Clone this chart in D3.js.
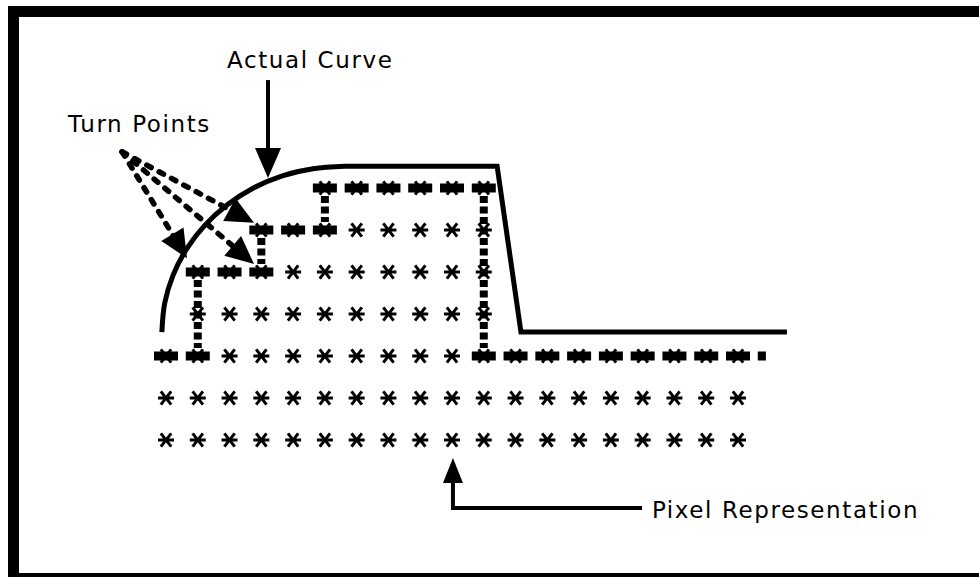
<html>
<head>
<script src="https://d3js.org/d3.v7.min.js"></script>
<style>
body { margin: 0; background: #fff; }
svg { font-family: "DejaVu Sans", sans-serif; }
.label { font-size: 23px; letter-spacing: 1.6px; fill: #000; }
</style>
</head>
<body>
<div id="root"></div>
<script>
/* Rejilla de pixeles: primera y ultima columna con asterisco en cada fila */
var rowRanges = [[5, 10], [3, 10], [1, 10], [1, 10], [0, 18], [0, 18], [0, 18]];

/* Representacion en pixeles (linea punteada), en columnas / filas */
var pixelPath = [[0, 4], [1, 4], [1, 2], [3, 2], [3, 1], [5, 1], [5, 0], [10, 0], [10, 4], [18.5, 4]];

/* Curva real, en las mismas unidades */
var curveArc = [[-0.13, 3.43], [-0.04, 2.74], [0.22, 2.08], [0.65, 1.45], [1.22, 0.89],
  [1.93, 0.40], [2.75, 0.0], [3.66, -0.29], [4.63, -0.46], [5.63, -0.52]];
var curveTail = [[5.63, -0.52], [10.42, -0.52], [11.17, 3.43], [19.54, 3.43]];

/* Anotaciones */
var turnFrom = [-1.38, -0.86];
var turnTips = [[0.66, 1.67], [2.77, 1.81], [2.77, 0.83]];
var curveArrow = [[3.21, -2.57], [3.21, -0.24]];
var pixelArrow = [[14.98, 7.62], [9.03, 7.62], [9.03, 6.43]];
var labelText = ["Actual Curve", "Turn Points", "Pixel Representation"];
var labelAt = [[1.92, -2.86], [-3.08, -1.33], [15.29, 7.86]];

var width = 979;
var height = 577;

/* escalas: columna -> x, fila -> y */
var x = d3.scaleLinear().domain([0, 18]).range([166, 738]);
var y = d3.scaleLinear().domain([0, 6]).range([188, 440]);
var px = p => [x(p[0]), y(p[1])];

var svg = d3.select("#root").append("svg")
  .attr("width", width)
  .attr("height", height);

/* marco */
svg.append("rect").attr("x", 8).attr("y", 6).attr("width", width - 8).attr("height", 11).attr("fill", "#000");
svg.append("rect").attr("x", 8).attr("y", 6).attr("width", 11).attr("height", height - 6).attr("fill", "#000");
svg.append("rect").attr("x", 8).attr("y", 573).attr("width", width - 8).attr("height", 4).attr("fill", "#000");

/* asterisco: barra horizontal + aspa */
var star = {
  draw: function(ctx, size) {
    var r = Math.sqrt(size) / 2;
    var a = 52 * Math.PI / 180, dx = r * 1.05 * Math.cos(a), dy = r * 1.05 * Math.sin(a);
    ctx.moveTo(-r, 0); ctx.lineTo(r, 0);
    ctx.moveTo(-dx, -dy); ctx.lineTo(dx, dy);
    ctx.moveTo(-dx, dy); ctx.lineTo(dx, -dy);
  }
};

var cells = [];
rowRanges.forEach(function(r, i) {
  for (var c = r[0]; c <= r[1]; c++) cells.push([c, i]);
});

svg.append("g").selectAll("path")
  .data(cells).enter()
  .append("path")
  .attr("d", d3.symbol(star, 256))
  .attr("transform", d => `translate(${x(d[0])},${y(d[1])})`)
  .attr("stroke", "#000")
  .attr("stroke-width", 3)
  .attr("fill", "none");

/* linea punteada de pixeles, tramo por tramo */
var segs = d3.pairs(pixelPath);
svg.append("g").selectAll("line")
  .data(segs).enter()
  .append("line")
  .each(function(s) {
    var a = px(s[0]), b = px(s[1]);
    var el = d3.select(this);
    if (a[1] === b[1]) {
      var x0 = Math.min(a[0], b[0]) - 12, x1 = Math.max(a[0], b[0]) + 12;
      el.attr("x1", x0).attr("x2", x1).attr("y1", a[1]).attr("y2", a[1])
        .attr("stroke-width", 9)
        .attr("stroke-dasharray", "24," + (x(1) - x(0) - 24));
    } else {
      var y0 = Math.min(a[1], b[1]), y1 = Math.max(a[1], b[1]);
      el.attr("x1", a[0]).attr("x2", a[0]).attr("y1", y0 + 8).attr("y2", y1 - 8)
        .attr("stroke-width", 8)
        .attr("stroke-dasharray", "7,3.5");
    }
  })
  .attr("stroke", "#000");

/* curva real */
var arcLine = d3.line().x(d => x(d[0])).y(d => y(d[1])).curve(d3.curveCatmullRom);
var tailLine = d3.line().x(d => x(d[0])).y(d => y(d[1]));

svg.append("path")
  .attr("d", arcLine(curveArc) + tailLine(curveTail).replace(/^M/, "L"))
  .attr("fill", "none")
  .attr("stroke", "#000")
  .attr("stroke-width", 5)
  .attr("stroke-linejoin", "miter");

/* punta de flecha */
function head(tip, from, len, half) {
  var dx = tip[0] - from[0], dy = tip[1] - from[1], d = Math.hypot(dx, dy);
  var ux = dx / d, uy = dy / d;
  var bx = tip[0] - ux * len, by = tip[1] - uy * len;
  return [tip, [bx - uy * half, by + ux * half], [bx + uy * half, by - ux * half]];
}
function base(tip, from, len) {
  var dx = tip[0] - from[0], dy = tip[1] - from[1], d = Math.hypot(dx, dy);
  return [tip[0] - dx / d * len, tip[1] - dy / d * len];
}

/* Turn Points: lineas discontinuas */
var o = px(turnFrom);
turnTips.forEach(function(t) {
  var tip = px(t);
  var b = base(tip, o, 24);
  svg.append("line")
    .attr("x1", o[0]).attr("y1", o[1])
    .attr("x2", b[0]).attr("y2", b[1])
    .attr("stroke", "#000")
    .attr("stroke-width", 5.5)
    .attr("stroke-linecap", "round")
    .attr("stroke-dasharray", "5,9");
  svg.append("polygon")
    .attr("points", head(tip, o, 28, 13).join(" "))
    .attr("fill", "#000");
});

/* Actual Curve: flecha */
var c0 = px(curveArrow[0]), c1 = px(curveArrow[1]);
svg.append("line")
  .attr("x1", c0[0]).attr("y1", c0[1])
  .attr("x2", c1[0]).attr("y2", c1[1] - 20)
  .attr("stroke", "#000").attr("stroke-width", 4);
svg.append("polygon")
  .attr("points", head(c1, c0, 30, 13).join(" "))
  .attr("fill", "#000");

/* Pixel Representation: flecha en L */
var pa = pixelArrow.map(px);
svg.append("path")
  .attr("d", d3.line()([pa[0], pa[1], base(pa[2], pa[1], 10)]))
  .attr("fill", "none")
  .attr("stroke", "#000").attr("stroke-width", 4)
  .attr("stroke-linejoin", "miter");
svg.append("polygon")
  .attr("points", head(pa[2], pa[1], 25, 10).join(" "))
  .attr("fill", "#000");

/* textos */
svg.append("g").selectAll("text")
  .data(labelText).enter()
  .append("text")
  .attr("class", "label")
  .attr("x", (d, i) => x(labelAt[i][0]))
  .attr("y", (d, i) => y(labelAt[i][1]))
  .text(d => d);
</script>
</body>
</html>
